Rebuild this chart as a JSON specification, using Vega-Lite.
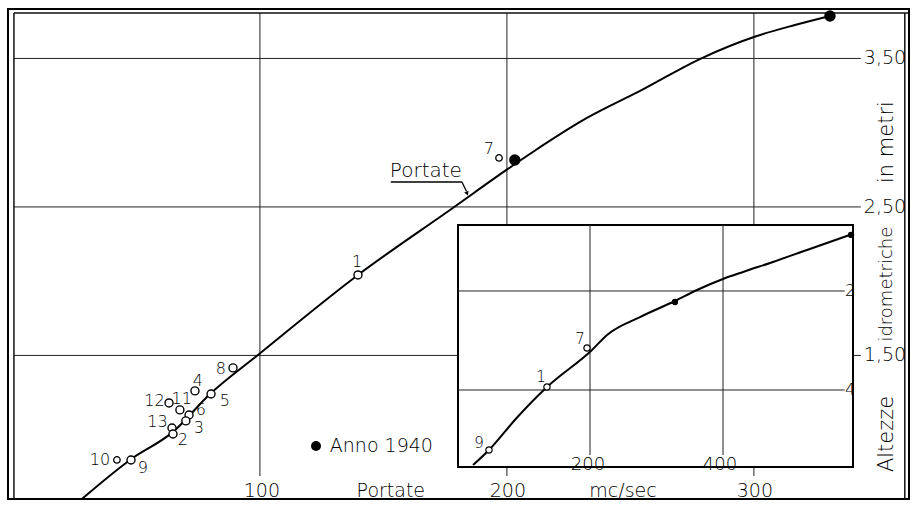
{
  "$schema": "https://vega.github.io/schema/vega-lite/v6.json",
  "width": 901,
  "height": 490,
  "padding": {"left": 8, "top": 9, "right": 5, "bottom": 7},
  "autosize": {"type": "none"},
  "background": "white",
  "config": {
    "view": {"stroke": "black", "strokeWidth": 2},
    "text": {"font": "DejaVu Sans", "fontWeight": 200, "color": "black"}
  },
  "datasets": {
    "mainGridV": [
      {"portata": 100, "da": 0.688, "a": 3.806},
      {"portata": 200, "da": 0.688, "a": 3.806},
      {"portata": 300, "da": 0.688, "a": 3.806}
    ],
    "mainGridH": [
      {"altezza": 3.5, "da": 0.405, "a": 343.3},
      {"altezza": 2.5, "da": 0.405, "a": 343.3},
      {"altezza": 1.5, "da": 0.405, "a": 343.3}
    ],
    "frameV": [
      {"portata": 0.405, "da": 0.533, "a": 3.806},
      {"portata": 361.1, "da": 0.533, "a": 3.806}
    ],
    "frameH": [
      {"altezza": 3.806, "da": 0.405, "a": 362.8}
    ],
    "mainCurve": [
      {"portata": 27.9, "altezza": 0.533},
      {"portata": 47.4, "altezza": 0.796},
      {"portata": 64.8, "altezza": 0.985},
      {"portata": 79.8, "altezza": 1.24},
      {"portata": 99.2, "altezza": 1.503},
      {"portata": 139.7, "altezza": 2.042},
      {"portata": 178.1, "altezza": 2.493},
      {"portata": 200.4, "altezza": 2.756},
      {"portata": 210.5, "altezza": 2.87},
      {"portata": 232.4, "altezza": 3.099},
      {"portata": 254.7, "altezza": 3.288},
      {"portata": 278.1, "altezza": 3.496},
      {"portata": 301.2, "altezza": 3.651},
      {"portata": 316.6, "altezza": 3.725},
      {"portata": 330.8, "altezza": 3.786}
    ],
    "mainOpen": [
      {"n": "1", "portata": 139.7, "altezza": 2.042},
      {"n": "8", "portata": 89.1, "altezza": 1.416},
      {"n": "4", "portata": 73.7, "altezza": 1.261},
      {"n": "5", "portata": 80.2, "altezza": 1.24},
      {"n": "12", "portata": 63.2, "altezza": 1.18},
      {"n": "11", "portata": 67.6, "altezza": 1.133},
      {"n": "6", "portata": 71.3, "altezza": 1.099},
      {"n": "3", "portata": 70.0, "altezza": 1.059},
      {"n": "13", "portata": 64.4, "altezza": 1.011},
      {"n": "2", "portata": 64.8, "altezza": 0.971},
      {"n": "9", "portata": 47.8, "altezza": 0.796}
    ],
    "mainOpenSmall": [
      {"n": "7", "portata": 196.8, "altezza": 2.83},
      {"n": "10", "portata": 42.1, "altezza": 0.796}
    ],
    "main1940": [
      {"portata": 203.2, "altezza": 2.816},
      {"portata": 330.8, "altezza": 3.786}
    ],
    "legendDot": [
      {"portata": 122.7, "altezza": 0.89}
    ],
    "mainPointLabels": [
      {"t": "1", "portata": 139.3, "altezza": 2.129},
      {"t": "7", "portata": 192.7, "altezza": 2.89},
      {"t": "8", "portata": 84.2, "altezza": 1.409},
      {"t": "4", "portata": 74.9, "altezza": 1.328},
      {"t": "5", "portata": 85.8, "altezza": 1.193},
      {"t": "12", "portata": 57.3, "altezza": 1.195},
      {"t": "11", "portata": 68.3, "altezza": 1.207},
      {"t": "6", "portata": 76.1, "altezza": 1.133},
      {"t": "3", "portata": 75.3, "altezza": 1.011},
      {"t": "13", "portata": 58.5, "altezza": 1.05},
      {"t": "2", "portata": 68.8, "altezza": 0.931},
      {"t": "10", "portata": 35.2, "altezza": 0.796},
      {"t": "9", "portata": 52.6, "altezza": 0.742}
    ],
    "mainLeftLabels": [
      {"t": "3,50", "portata": 344.5, "altezza": 3.5},
      {"t": "2,50", "portata": 344.5, "altezza": 2.5},
      {"t": "1,50", "portata": 344.5, "altezza": 1.5},
      {"t": "Anno 1940", "portata": 128.3, "altezza": 0.89}
    ],
    "mainBottomLabels": [
      {"t": "100", "portata": 100.8, "altezza": 0.587},
      {"t": "Portate", "portata": 153.0, "altezza": 0.587},
      {"t": "200", "portata": 200.4, "altezza": 0.587},
      {"t": "mc/sec", "portata": 247.0, "altezza": 0.587},
      {"t": "300", "portata": 300.4, "altezza": 0.587}
    ],
    "curveTitle": [
      {"t": "Portate", "portata": 167.2, "altezza": 2.742}
    ],
    "curveTitleLine": [
      {"portata": 153.0, "altezza": 2.668, "portata2": 181.8, "altezza2": 2.668},
      {"portata": 181.8, "altezza": 2.668, "portata2": 183.6, "altezza2": 2.605}
    ],
    "curveTitleArrow": [
      {"portata": 183.9, "altezza": 2.59}
    ],
    "yTitle": [
      {"t": "Altezze", "portata": 353.8, "altezza": 0.971},
      {"t": "in metri", "portata": 353.8, "altezza": 2.937}
    ],
    "yTitleMid": [
      {"t": "idrometriche", "portata": 353.8, "altezza": 1.98}
    ],
    "insetFrame": [
      {"portata": 1.5, "portata2": 595.5, "altezza": 0.222, "altezza2": 2.667}
    ],
    "insetGridV": [
      {"portata": 200, "da": 0.343, "a": 2.667},
      {"portata": 400, "da": 0.343, "a": 2.667}
    ],
    "insetGridH": [
      {"altezza": 2, "da": 1.5, "a": 583},
      {"altezza": 1, "da": 1.5, "a": 583}
    ],
    "insetCurve": [
      {"portata": 24.1, "altezza": 0.242},
      {"portata": 48.1, "altezza": 0.394},
      {"portata": 90.0, "altezza": 0.72},
      {"portata": 135.3, "altezza": 1.03},
      {"portata": 203.0, "altezza": 1.404},
      {"portata": 225.6, "altezza": 1.556},
      {"portata": 275.2, "altezza": 1.737},
      {"portata": 327.8, "altezza": 1.899},
      {"portata": 360.9, "altezza": 2.01},
      {"portata": 400.0, "altezza": 2.121},
      {"portata": 430.1, "altezza": 2.192},
      {"portata": 475.2, "altezza": 2.293},
      {"portata": 526.3, "altezza": 2.414},
      {"portata": 591.0, "altezza": 2.566}
    ],
    "insetOpen": [
      {"n": "9", "portata": 48.1, "altezza": 0.394},
      {"n": "1", "portata": 135.3, "altezza": 1.03},
      {"n": "7", "portata": 195.5, "altezza": 1.424}
    ],
    "inset1940": [
      {"portata": 327.8, "altezza": 1.889},
      {"portata": 592.5, "altezza": 2.566}
    ],
    "insetPointLabels": [
      {"t": "9", "portata": 33.1, "altezza": 0.465},
      {"t": "1", "portata": 126.3, "altezza": 1.131},
      {"t": "7", "portata": 185.0, "altezza": 1.515}
    ],
    "insetBottomLabels": [
      {"t": "200", "portata": 197, "altezza": 0.242},
      {"t": "400", "portata": 395.5, "altezza": 0.242}
    ],
    "insetRightLabels": [
      {"t": "2", "portata": 591, "altezza": 2},
      {"t": "4", "portata": 591, "altezza": 1}
    ]
  },
  "resolve": {"scale": {"x": "independent", "y": "independent"}},
  "layer": [
    {
      "layer": [
        {
          "data": {"name": "mainGridV"},
          "mark": {"type": "rule", "color": "#222", "strokeWidth": 1},
          "encoding": {
            "x": {"field": "portata", "type": "quantitative", "axis": null, "scale": {"domain": [-2, 362.8], "nice": false, "zero": false}},
            "y": {"field": "da", "type": "quantitative", "axis": null, "scale": {"domain": [0.533, 3.833], "nice": false, "zero": false}},
            "y2": {"field": "a"}
          }
        },
        {
          "data": {"name": "mainGridH"},
          "mark": {"type": "rule", "color": "#222", "strokeWidth": 1},
          "encoding": {
            "y": {"field": "altezza", "type": "quantitative", "axis": null, "scale": {"domain": [0.533, 3.833], "nice": false, "zero": false}},
            "x": {"field": "da", "type": "quantitative", "axis": null, "scale": {"domain": [-2, 362.8], "nice": false, "zero": false}},
            "x2": {"field": "a"}
          }
        },
        {
          "data": {"name": "frameV"},
          "mark": {"type": "rule", "color": "#111", "strokeWidth": 1.5},
          "encoding": {
            "x": {"field": "portata", "type": "quantitative", "axis": null, "scale": {"domain": [-2, 362.8], "nice": false, "zero": false}},
            "y": {"field": "da", "type": "quantitative", "axis": null, "scale": {"domain": [0.533, 3.833], "nice": false, "zero": false}},
            "y2": {"field": "a"}
          }
        },
        {
          "data": {"name": "frameH"},
          "mark": {"type": "rule", "color": "#111", "strokeWidth": 1.5},
          "encoding": {
            "y": {"field": "altezza", "type": "quantitative", "axis": null, "scale": {"domain": [0.533, 3.833], "nice": false, "zero": false}},
            "x": {"field": "da", "type": "quantitative", "axis": null, "scale": {"domain": [-2, 362.8], "nice": false, "zero": false}},
            "x2": {"field": "a"}
          }
        },
        {
          "data": {"name": "mainCurve"},
          "mark": {"type": "line", "color": "black", "strokeWidth": 2, "interpolate": "monotone"},
          "encoding": {
            "x": {"field": "portata", "type": "quantitative", "axis": null, "scale": {"domain": [-2, 362.8], "nice": false, "zero": false}},
            "y": {"field": "altezza", "type": "quantitative", "axis": null, "scale": {"domain": [0.533, 3.833], "nice": false, "zero": false}}
          }
        },
        {
          "data": {"name": "curveTitleLine"},
          "mark": {"type": "rule", "color": "black", "strokeWidth": 1.3},
          "encoding": {
            "x": {"field": "portata", "type": "quantitative", "axis": null, "scale": {"domain": [-2, 362.8], "nice": false, "zero": false}},
            "y": {"field": "altezza", "type": "quantitative", "axis": null, "scale": {"domain": [0.533, 3.833], "nice": false, "zero": false}},
            "x2": {"field": "portata2"},
            "y2": {"field": "altezza2"}
          }
        },
        {
          "data": {"name": "curveTitleArrow"},
          "mark": {"type": "point", "shape": "triangle-down", "filled": true, "color": "black", "size": 22, "angle": -23, "opacity": 1},
          "encoding": {
            "x": {"field": "portata", "type": "quantitative", "axis": null, "scale": {"domain": [-2, 362.8], "nice": false, "zero": false}},
            "y": {"field": "altezza", "type": "quantitative", "axis": null, "scale": {"domain": [0.533, 3.833], "nice": false, "zero": false}}
          }
        },
        {
          "data": {"name": "mainOpen"},
          "mark": {"type": "point", "shape": "circle", "filled": false, "fill": "white", "fillOpacity": 1, "stroke": "black", "strokeWidth": 1.4, "size": 64, "opacity": 1},
          "encoding": {
            "x": {"field": "portata", "type": "quantitative", "axis": null, "scale": {"domain": [-2, 362.8], "nice": false, "zero": false}},
            "y": {"field": "altezza", "type": "quantitative", "axis": null, "scale": {"domain": [0.533, 3.833], "nice": false, "zero": false}}
          }
        },
        {
          "data": {"name": "mainOpenSmall"},
          "mark": {"type": "point", "shape": "circle", "filled": false, "fill": "white", "fillOpacity": 1, "stroke": "black", "strokeWidth": 1.3, "size": 42, "opacity": 1},
          "encoding": {
            "x": {"field": "portata", "type": "quantitative", "axis": null, "scale": {"domain": [-2, 362.8], "nice": false, "zero": false}},
            "y": {"field": "altezza", "type": "quantitative", "axis": null, "scale": {"domain": [0.533, 3.833], "nice": false, "zero": false}}
          }
        },
        {
          "data": {"name": "main1940"},
          "mark": {"type": "point", "shape": "circle", "filled": true, "color": "black", "size": 130, "opacity": 1},
          "encoding": {
            "x": {"field": "portata", "type": "quantitative", "axis": null, "scale": {"domain": [-2, 362.8], "nice": false, "zero": false}},
            "y": {"field": "altezza", "type": "quantitative", "axis": null, "scale": {"domain": [0.533, 3.833], "nice": false, "zero": false}}
          }
        },
        {
          "data": {"name": "legendDot"},
          "mark": {"type": "point", "shape": "circle", "filled": true, "color": "black", "size": 100, "opacity": 1},
          "encoding": {
            "x": {"field": "portata", "type": "quantitative", "axis": null, "scale": {"domain": [-2, 362.8], "nice": false, "zero": false}},
            "y": {"field": "altezza", "type": "quantitative", "axis": null, "scale": {"domain": [0.533, 3.833], "nice": false, "zero": false}}
          }
        },
        {
          "data": {"name": "mainPointLabels"},
          "mark": {"type": "text", "fontSize": 16, "align": "center", "baseline": "middle"},
          "encoding": {
            "x": {"field": "portata", "type": "quantitative", "axis": null, "scale": {"domain": [-2, 362.8], "nice": false, "zero": false}},
            "y": {"field": "altezza", "type": "quantitative", "axis": null, "scale": {"domain": [0.533, 3.833], "nice": false, "zero": false}},
            "text": {"field": "t"}
          }
        },
        {
          "data": {"name": "mainLeftLabels"},
          "mark": {"type": "text", "fontSize": 19, "align": "left", "baseline": "middle"},
          "encoding": {
            "x": {"field": "portata", "type": "quantitative", "axis": null, "scale": {"domain": [-2, 362.8], "nice": false, "zero": false}},
            "y": {"field": "altezza", "type": "quantitative", "axis": null, "scale": {"domain": [0.533, 3.833], "nice": false, "zero": false}},
            "text": {"field": "t"}
          }
        },
        {
          "data": {"name": "mainBottomLabels"},
          "mark": {"type": "text", "fontSize": 19, "align": "center", "baseline": "middle"},
          "encoding": {
            "x": {"field": "portata", "type": "quantitative", "axis": null, "scale": {"domain": [-2, 362.8], "nice": false, "zero": false}},
            "y": {"field": "altezza", "type": "quantitative", "axis": null, "scale": {"domain": [0.533, 3.833], "nice": false, "zero": false}},
            "text": {"field": "t"}
          }
        },
        {
          "data": {"name": "curveTitle"},
          "mark": {"type": "text", "fontSize": 20, "align": "center", "baseline": "middle"},
          "encoding": {
            "x": {"field": "portata", "type": "quantitative", "axis": null, "scale": {"domain": [-2, 362.8], "nice": false, "zero": false}},
            "y": {"field": "altezza", "type": "quantitative", "axis": null, "scale": {"domain": [0.533, 3.833], "nice": false, "zero": false}},
            "text": {"field": "t"}
          }
        },
        {
          "data": {"name": "yTitle"},
          "mark": {"type": "text", "fontSize": 21, "align": "center", "baseline": "middle", "angle": 270},
          "encoding": {
            "x": {"field": "portata", "type": "quantitative", "axis": null, "scale": {"domain": [-2, 362.8], "nice": false, "zero": false}},
            "y": {"field": "altezza", "type": "quantitative", "axis": null, "scale": {"domain": [0.533, 3.833], "nice": false, "zero": false}},
            "text": {"field": "t"}
          }
        },
        {
          "data": {"name": "yTitleMid"},
          "mark": {"type": "text", "fontSize": 18, "align": "center", "baseline": "middle", "angle": 270},
          "encoding": {
            "x": {"field": "portata", "type": "quantitative", "axis": null, "scale": {"domain": [-2, 362.8], "nice": false, "zero": false}},
            "y": {"field": "altezza", "type": "quantitative", "axis": null, "scale": {"domain": [0.533, 3.833], "nice": false, "zero": false}},
            "text": {"field": "t"}
          }
        }
      ]
    },
    {
      "layer": [
        {
          "data": {"name": "insetFrame"},
          "mark": {"type": "rect", "fill": "white", "stroke": "black", "strokeWidth": 2},
          "encoding": {
            "x": {"field": "portata", "type": "quantitative", "axis": null, "scale": {"domain": [-675.2, 679.7], "nice": false, "zero": false}},
            "x2": {"field": "portata2"},
            "y": {"field": "altezza", "type": "quantitative", "axis": null, "scale": {"domain": [-0.101, 4.848], "nice": false, "zero": false}},
            "y2": {"field": "altezza2"}
          }
        },
        {
          "data": {"name": "insetGridV"},
          "mark": {"type": "rule", "color": "#222", "strokeWidth": 1},
          "encoding": {
            "x": {"field": "portata", "type": "quantitative", "axis": null, "scale": {"domain": [-675.2, 679.7], "nice": false, "zero": false}},
            "y": {"field": "da", "type": "quantitative", "axis": null, "scale": {"domain": [-0.101, 4.848], "nice": false, "zero": false}},
            "y2": {"field": "a"}
          }
        },
        {
          "data": {"name": "insetGridH"},
          "mark": {"type": "rule", "color": "#222", "strokeWidth": 1},
          "encoding": {
            "y": {"field": "altezza", "type": "quantitative", "axis": null, "scale": {"domain": [-0.101, 4.848], "nice": false, "zero": false}},
            "x": {"field": "da", "type": "quantitative", "axis": null, "scale": {"domain": [-675.2, 679.7], "nice": false, "zero": false}},
            "x2": {"field": "a"}
          }
        },
        {
          "data": {"name": "insetCurve"},
          "mark": {"type": "line", "color": "black", "strokeWidth": 2, "interpolate": "monotone"},
          "encoding": {
            "x": {"field": "portata", "type": "quantitative", "axis": null, "scale": {"domain": [-675.2, 679.7], "nice": false, "zero": false}},
            "y": {"field": "altezza", "type": "quantitative", "axis": null, "scale": {"domain": [-0.101, 4.848], "nice": false, "zero": false}}
          }
        },
        {
          "data": {"name": "insetOpen"},
          "mark": {"type": "point", "shape": "circle", "filled": false, "fill": "white", "fillOpacity": 1, "stroke": "black", "strokeWidth": 1.2, "size": 40, "opacity": 1},
          "encoding": {
            "x": {"field": "portata", "type": "quantitative", "axis": null, "scale": {"domain": [-675.2, 679.7], "nice": false, "zero": false}},
            "y": {"field": "altezza", "type": "quantitative", "axis": null, "scale": {"domain": [-0.101, 4.848], "nice": false, "zero": false}}
          }
        },
        {
          "data": {"name": "inset1940"},
          "mark": {"type": "point", "shape": "circle", "filled": true, "color": "black", "size": 40, "opacity": 1},
          "encoding": {
            "x": {"field": "portata", "type": "quantitative", "axis": null, "scale": {"domain": [-675.2, 679.7], "nice": false, "zero": false}},
            "y": {"field": "altezza", "type": "quantitative", "axis": null, "scale": {"domain": [-0.101, 4.848], "nice": false, "zero": false}}
          }
        },
        {
          "data": {"name": "insetPointLabels"},
          "mark": {"type": "text", "fontSize": 15, "align": "center", "baseline": "middle"},
          "encoding": {
            "x": {"field": "portata", "type": "quantitative", "axis": null, "scale": {"domain": [-675.2, 679.7], "nice": false, "zero": false}},
            "y": {"field": "altezza", "type": "quantitative", "axis": null, "scale": {"domain": [-0.101, 4.848], "nice": false, "zero": false}},
            "text": {"field": "t"}
          }
        },
        {
          "data": {"name": "insetBottomLabels"},
          "mark": {"type": "text", "fontSize": 18, "align": "center", "baseline": "middle"},
          "encoding": {
            "x": {"field": "portata", "type": "quantitative", "axis": null, "scale": {"domain": [-675.2, 679.7], "nice": false, "zero": false}},
            "y": {"field": "altezza", "type": "quantitative", "axis": null, "scale": {"domain": [-0.101, 4.848], "nice": false, "zero": false}},
            "text": {"field": "t"}
          }
        },
        {
          "data": {"name": "insetRightLabels"},
          "mark": {"type": "text", "fontSize": 16, "align": "center", "baseline": "middle"},
          "encoding": {
            "x": {"field": "portata", "type": "quantitative", "axis": null, "scale": {"domain": [-675.2, 679.7], "nice": false, "zero": false}},
            "y": {"field": "altezza", "type": "quantitative", "axis": null, "scale": {"domain": [-0.101, 4.848], "nice": false, "zero": false}},
            "text": {"field": "t"}
          }
        }
      ]
    }
  ]
}
